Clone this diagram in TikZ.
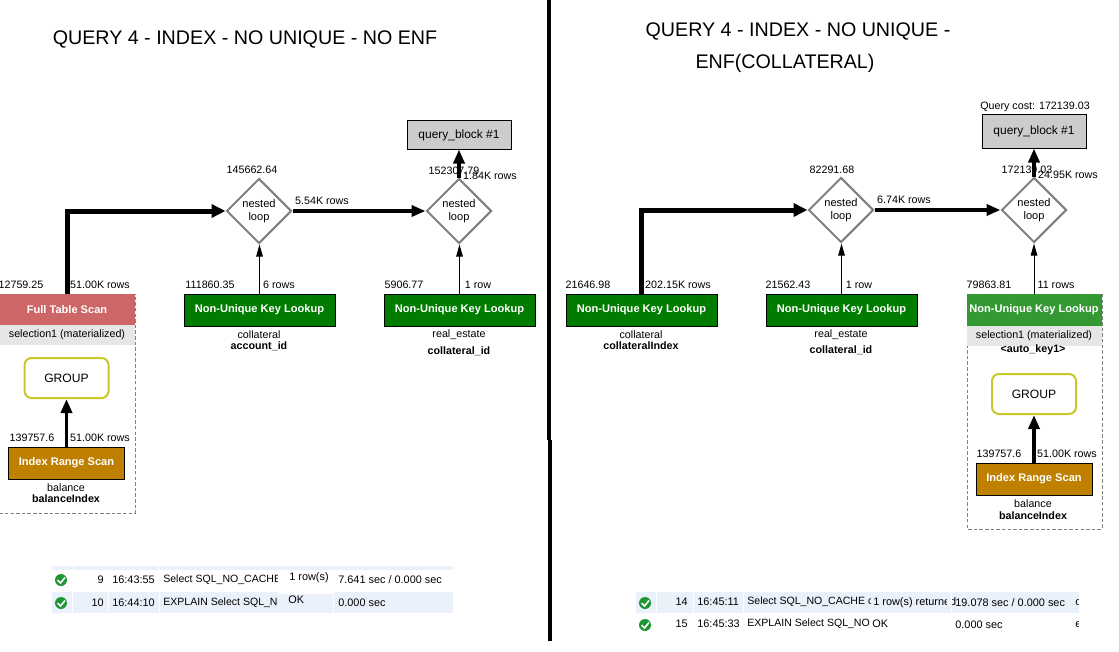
\documentclass[tikz,border=0pt]{standalone}
\usepackage{fontspec}
\setmainfont{Liberation Sans}
\usetikzlibrary{arrows.meta}
\usetikzlibrary{shapes.geometric}
\definecolor{scanred}{RGB}{205,102,102}
\definecolor{keygreen}{RGB}{0,125,0}
\definecolor{tempgreen}{RGB}{51,153,51}
\definecolor{rangebrown}{RGB}{191,128,0}
\definecolor{bandgray}{RGB}{230,230,230}
\definecolor{blockgray}{RGB}{204,204,204}
\definecolor{groupyellow}{RGB}{200,200,40}
\definecolor{rowblue}{RGB}{234,241,251}
\definecolor{okgreen}{RGB}{30,150,50}
\def\px{0.02cm}
\tikzset{
  lbl/.style={font=\fontsize{6.1}{7.2}\selectfont, inner sep=0pt},
  boldlbl/.style={lbl, font=\fontsize{6.1}{7.2}\selectfont\bfseries},
  tbl/.style={font=\fontsize{6.2}{7.2}\selectfont, inner sep=0pt},
  qtext/.style={font=\fontsize{6}{7.2}\selectfont, inner sep=0pt},
  titletext/.style={font=\fontsize{11.2}{14}\selectfont, inner sep=0pt},
  opbox/.style={draw=black, line width=1*\px, minimum height=32*\px, inner sep=0pt,
    text=white, font=\fontsize{6.3}{7.4}\selectfont\bfseries},
  keybox/.style={opbox, fill=keygreen, minimum width=151*\px},
  rangebox/.style={opbox, fill=rangebrown, minimum width=116*\px},
  blockbox/.style={draw=black, line width=1*\px, fill=blockgray, minimum width=104*\px, inner sep=0pt,
    font=\fontsize{6.8}{8}\selectfont},
  loopnode/.style={diamond, draw=black!50, line width=2*\px, fill=white, aspect=1, inner sep=0pt,
    minimum width=65*\px, minimum height=65*\px, align=center, font=\fontsize{6.3}{7}\selectfont},
  groupbox/.style={draw=groupyellow, line width=2*\px, rounded corners=7*\px, fill=white,
    minimum width=84*\px, minimum height=40*\px, inner sep=0pt, font=\fontsize{6.9}{8}\selectfont},
  bandbox/.style={fill=bandgray, minimum height=20*\px, inner sep=0pt, font=\fontsize{6.1}{7.2}\selectfont},
  framebox/.style={draw=gray, line width=1*\px, dash pattern=on 2pt off 1.2pt},
  thinline/.style={line width=1*\px, -{Triangle[length=12*\px,width=6.5*\px]}},
  midline/.style={line width=3.5*\px, -{Triangle[length=14*\px,width=11*\px]}},
  fatline/.style={line width=5*\px, -{Triangle[length=14*\px,width=13*\px]}},
  okmark/.style={circle, fill=okgreen, minimum size=12*\px, inner sep=0pt},
  tick/.style={draw=white, line width=1.6*\px}
}
\begin{document}
\begin{tikzpicture}[x=\px, y=-\px]
  \useasboundingbox (0,0) rectangle (1119,652);
  \clip (0,0) rectangle (1119,652);
  \fill[white] (0,0) rectangle (1119,652);
  \fill[black] (547,0) rectangle (551,440);
  \fill[black] (548,440) rectangle (552,641);

  % left plan
  \node[titletext] (titleL) at (245,39.5){QUERY 4 - INDEX - NO UNIQUE - NO ENF};
  \node[blockbox, minimum height=28*\px] (blockL) at (459,135){query\_block \#1};
  \node[loopnode] (loopLa) at (259,211){nested\\loop};
  \node[loopnode] (loopLb) at (459,211){nested\\loop};
  \node[keybox] (keyLa) at (259.5,310){Non-Unique Key Lookup};
  \node[keybox] (keyLb) at (459.5,310){Non-Unique Key Lookup};
  \draw[framebox] (-1,294) rectangle (135,513);
  \node[opbox, draw=none, fill=scanred, minimum width=135*\px, minimum height=31*\px] (scanL) at (67,309.5){Full Table Scan};
  \node[bandbox, minimum width=135*\px] (bandL) at (67,334.5){selection1 (materialized)};
  \node[groupbox] (groupL) at (66.5,378){GROUP};
  \node[rangebox] (rangeL) at (66.5,463){Index Range Scan};
  \draw[fatline] (scanL.north) |- (loopLa.west);
  \draw[midline] (loopLa.east) -- (loopLb.west);
  \draw[midline] (loopLb.north) -- (blockL.south);
  \draw[thinline] (keyLa.north) -- (keyLa.north |- loopLa.south);
  \draw[thinline] (keyLb.north) -- (keyLb.north |- loopLb.south);
  \draw[midline] (rangeL.north) -- (groupL.south);
  \node[lbl] (costLa) at (252,170){145662.64};
  \node[lbl] (costLb) at (454,171){152307.79};
  \node[lbl] (rowsLb) at (490,175.5){1.84K rows};
  \node[lbl] (rowsLa) at (322,201){5.54K rows};
  \node[lbl] (costScanL) at (21,285){12759.25};
  \node[lbl] (rowsScanL) at (100,285){51.00K rows};
  \node[lbl] (costKeyLa) at (210,285){111860.35};
  \node[lbl] (rowsKeyLa) at (279,285){6 rows};
  \node[lbl] (costKeyLb) at (404,285){5906.77};
  \node[lbl] (rowsKeyLb) at (478,285){1 row};
  \node[lbl] (costRangeL) at (32,438){139757.6};
  \node[lbl] (rowsRangeL) at (100,438){51.00K rows};
  \node[lbl] (tableLa) at (259,335){collateral};
  \node[boldlbl] (indexLa) at (259,346){account\_id};
  \node[lbl] (tableLb) at (459,335){real\_estate};
  \node[boldlbl] (indexLb) at (459,351){collateral\_id};
  \node[lbl] (tableRangeL) at (66,488){balance};
  \node[boldlbl] (indexRangeL) at (66,499){balanceIndex};

  % right plan
  \node[titletext] (titleRa) at (798,31.5){QUERY 4 - INDEX - NO UNIQUE -};
  \node[titletext] (titleRb) at (785,63.5){ENF(COLLATERAL)};
  \node[lbl] (costTotal) at (1035,106.5){Query cost: 172139.03};
  \node[blockbox, minimum height=33*\px] (blockR) at (1034,131.5){query\_block \#1};
  \node[loopnode] (loopRa) at (841,210){nested\\loop};
  \node[loopnode] (loopRb) at (1034,210){nested\\loop};
  \node[keybox] (keyRa) at (641.5,310){Non-Unique Key Lookup};
  \node[keybox] (keyRb) at (841.5,310){Non-Unique Key Lookup};
  \draw[framebox] (967,294) rectangle (1102,529);
  \node[opbox, draw=none, fill=tempgreen, minimum width=135*\px] (keyRc) at (1034,310){Non-Unique Key Lookup};
  \node[bandbox, minimum width=135*\px] (bandR) at (1034,336){selection1 (materialized)};
  \node[boldlbl] (indexRc) at (1033,350){<auto\_key1>};
  \node[groupbox] (groupR) at (1034,394){GROUP};
  \node[rangebox] (rangeR) at (1034,479){Index Range Scan};
  \draw[fatline] (keyRa.north) |- (loopRa.west);
  \draw[midline] (loopRa.east) -- (loopRb.west);
  \draw[midline] (loopRb.north) -- (blockR.south);
  \draw[thinline] (keyRb.north) -- (keyRb.north |- loopRa.south);
  \draw[thinline] (keyRc.north) -- (loopRb.south);
  \draw[midline] (rangeR.north) -- (groupR.south);
  \node[lbl] (costRa) at (832,170){82291.68};
  \node[lbl] (costRb) at (1027,170){172139.03};
  \node[lbl] (rowsRb) at (1068,174.5){24.95K rows};
  \node[lbl] (rowsRa) at (904,200){6.74K rows};
  \node[lbl] (costKeyRa) at (588,285){21646.98};
  \node[lbl] (rowsKeyRa) at (678,285){202.15K rows};
  \node[lbl] (costKeyRb) at (788,285){21562.43};
  \node[lbl] (rowsKeyRb) at (859,285){1 row};
  \node[lbl] (costKeyRc) at (989,285){79863.81};
  \node[lbl] (rowsKeyRc) at (1056,285){11 rows};
  \node[lbl] (costRangeR) at (999,454){139757.6};
  \node[lbl] (rowsRangeR) at (1067,454){51.00K rows};
  \node[lbl] (tableRa) at (641,335){collateral};
  \node[boldlbl] (indexRa) at (641,346){collateralIndex};
  \node[lbl] (tableRb) at (841,335){real\_estate};
  \node[boldlbl] (indexRb) at (841,350){collateral\_id};
  \node[lbl] (tableRangeR) at (1033,504){balance};
  \node[boldlbl] (indexRangeR) at (1033,516){balanceIndex};

  % left output rows
  \fill[rowblue] (52,566) rectangle (453,570);
  \fill[rowblue] (52,592) rectangle (453,613);
  \fill[white] (72,566) rectangle (73,613);
  \fill[white] (108,566) rectangle (109,613);
  \fill[white] (159,566) rectangle (160,613);
  \node[okmark] (okLa) at (61,580){};
  \draw[tick] (57.5,580) -- (60.5,583) -- (65,577.5);
  \node[okmark] (okLb) at (61,603){};
  \draw[tick] (57.5,603) -- (60.5,606) -- (65,600.5);
  \node[tbl, anchor=east] (numLa) at (104,580){9};
  \node[tbl, anchor=west] (timeLa) at (112,580){16:43:55};
  \node[qtext, anchor=west] (queryLa) at (163,580){Select SQL\_NO\_CACHE};
  \node[tbl, anchor=east] (numLb) at (104,603){10};
  \node[tbl, anchor=west] (timeLb) at (112,603){16:44:10};
  \node[qtext, anchor=west] (queryLb) at (163,603){EXPLAIN Select SQL\_N};
  % result cells lie over the cut query text
  \fill[white] (278,570) rectangle (333,594);
  \fill[rowblue] (278,594) rectangle (333,613);
  \fill[white] (333,592) rectangle (334,613);
  \node[tbl, anchor=west] (resLa) at (289,578){1 row(s)};
  \node[tbl, anchor=west] (durLa) at (338,580){7.641 sec / 0.000 sec};
  \node[tbl, anchor=west] (resLb) at (288,600){OK};
  \node[tbl, anchor=west] (durLb) at (338,603){0.000 sec};

  % right output rows
  \fill[rowblue] (636,592) rectangle (1080,613);
  \fill[white] (656,592) rectangle (657,613);
  \fill[white] (693,592) rectangle (694,613);
  \fill[white] (743,592) rectangle (744,613);
  \node[okmark] (okRa) at (645,603){};
  \draw[tick] (641.5,603) -- (644.5,606) -- (649,600.5);
  \node[okmark] (okRb) at (645,625){};
  \draw[tick] (641.5,625) -- (644.5,628) -- (649,622.5);
  \node[tbl, anchor=east] (numRa) at (688,602){14};
  \node[tbl, anchor=west] (timeRa) at (697,602){16:45:11};
  \node[qtext, anchor=west] (queryRa) at (747,602){Select SQL\_NO\_CACHE c};
  \node[tbl, anchor=east] (numRb) at (688,624){15};
  \node[tbl, anchor=west] (timeRb) at (697,624){16:45:33};
  \node[qtext, anchor=west] (queryRb) at (747,624){EXPLAIN Select SQL\_NO};
  \fill[rowblue] (871,592) rectangle (951,613);
  \fill[white] (871,613) rectangle (951,635);
  \node[tbl, anchor=west] (resRa) at (873,603){1 row(s) returned};
  \fill[rowblue] (947,592) rectangle (951,613);
  \fill[white] (951,592) rectangle (952,613);
  \node[tbl, anchor=west] (durRa) at (955,603){19.078 sec / 0.000 sec};
  \node[tbl, anchor=west] (resRb) at (872,624){OK};
  \node[tbl, anchor=west] (durRb) at (955,625){0.000 sec};
  \node[tbl, anchor=west] (restRa) at (1075,603){o};
  \node[tbl, anchor=west] (restRb) at (1075,625){e};
  \fill[white] (1079,590) rectangle (1090,640);
\end{tikzpicture}
\end{document}
